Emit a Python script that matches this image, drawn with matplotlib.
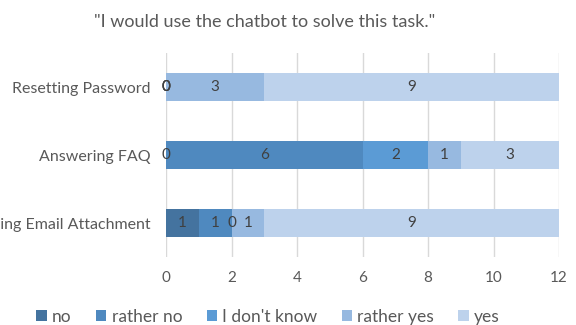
import matplotlib.pyplot as plt
import numpy as np

aufgaben = ['Forwarding Email Attachment', 'Answering FAQ', 'Resetting Password']
antworten = ['no', 'rather no', "I don't know", 'rather yes', 'yes']
werte = {
    'no': [1, 0, 0],
    'rather no': [1, 6, 0],
    "I don't know": [0, 2, 0],
    'rather yes': [1, 1, 3],
    'yes': [9, 3, 9],
}
farben = ['#44739F', '#4F89BF', '#5B9BD5', '#97B9E0', '#BDD2EC']

plt.rcParams['font.family'] = ['Lato', 'DejaVu Sans']

fig = plt.figure(figsize=(5.76, 3.25), dpi=100)
ax = fig.add_axes([166 / 576, 1 - 257 / 325, (559 - 166) / 576, 204 / 325])

y_pos = np.arange(len(aufgaben))
links = np.zeros(len(aufgaben))
for antwort, farbe in zip(antworten, farben):
    w = np.array(werte[antwort])
    bars = ax.barh(y_pos, w, left=links, height=0.41, color=farbe, label=antwort, zorder=2)
    # Beschriftung auch bei 0 (wie in Excel)
    for b, v in zip(bars, w):
        ax.text(b.get_x() + b.get_width() / 2, b.get_y() + b.get_height() / 2, str(v),
                ha='center', va='center', fontsize=11, color='#404040', zorder=3)
    links += w

ax.set_xlim(0, 12)
ax.set_ylim(-0.5, 2.5)
ax.set_xticks(range(0, 13, 2))
ax.set_yticks(y_pos)
ax.set_yticklabels(aufgaben)
ax.grid(axis='x', color='#D9D9D9', linewidth=1, zorder=0)
for s in ax.spines.values():
    s.set_visible(False)
ax.tick_params(axis='both', which='both', length=0, labelsize=11, labelcolor='#595959')
ax.tick_params(axis='y', labelsize=11.5, pad=11)
ax.tick_params(axis='x', pad=10)

fig.text(265 / 576, 1 - 22 / 325, '"I would use the chatbot to solve this task."',
         ha='center', va='center', fontsize=13, color='#595959')

fig.legend(loc='center', bbox_to_anchor=(268 / 576, 1 - 317 / 325), ncol=5, frameon=False,
           fontsize=12.5, labelcolor='#595959', handlelength=0.6, handleheight=0.6,
           handletextpad=0.3, columnspacing=1.4)

fig.savefig('out.png', dpi=100)
